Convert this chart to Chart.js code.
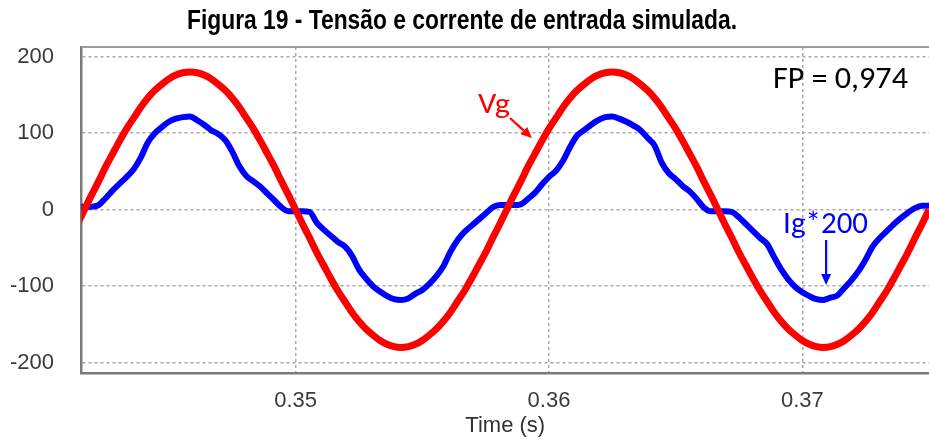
<!DOCTYPE html>
<html>
<head>
<meta charset="utf-8">
<script src="https://cdn.jsdelivr.net/npm/chart.js@4"></script>
<style>
  html, body { margin: 0; padding: 0; background: #fff; overflow: hidden; }
  canvas { display: block; }
</style>
</head>
<body>
<canvas id="c" width="929" height="440"></canvas>
<script>
// Simulated input waveforms, sampled every 1/3600 s (6 electrical degrees at 60 Hz)
const sampleStart = 0.341389;   // s
const samplePeriod = 1 / 3600;  // s

// Grid voltage Vg (V)
const vg = [
  -19,
  0, 19, 37, 56, 73, 90, 106, 120, 134, 146, 156, 164, 171, 176, 179, 180,
  179, 176, 171, 164, 156, 146, 134, 120, 106, 90, 73, 56, 37, 19, 0,
  -19, -37, -56, -73, -90, -106, -120, -134, -146, -156, -164, -171, -176, -179, -180,
  -179, -176, -171, -164, -156, -146, -134, -120, -106, -90, -73, -56, -37, -19,
  0, 19, 37, 56, 73, 90, 106, 120, 134, 146, 156, 164, 171, 176, 179, 180,
  179, 176, 171, 164, 156, 146, 134, 120, 106, 90, 73, 56, 37, 19, 0,
  -19, -37, -56, -73, -90, -106, -120, -134, -146, -156, -164, -171, -176, -179, -180,
  -179, -176, -171, -164, -156, -146, -134, -120, -106, -90, -73, -56, -37, -19,
  0, 19
];

// Grid current scaled by 200 (Ig*200)
const ig200 = [
  4,
  4, 4, 6, 15, 25, 34, 43, 53, 68, 88, 100, 108, 115, 119, 121, 122,
  117, 111, 104, 99, 91, 76, 57, 44, 37, 30, 21, 12, 3, -2, -2,
  -2, -3, -17, -26, -34, -42, -48, -60, -78, -90, -100, -107, -113, -117, -118,
  -116, -110, -105, -97, -87, -74, -55, -40, -29, -21, -13, -5, 3, 6,
  6, 6, 7, 14, 22, 33, 43, 51, 64, 82, 97, 104, 111, 117, 121, 122,
  119, 115, 110, 104, 94, 84, 62, 48, 40, 31, 24, 14, 3, -2, -2,
  -2, -3, -10, -19, -28, -37, -45, -62, -78, -91, -101, -108, -113, -117, -118,
  -115, -112, -102, -92, -80, -65, -48, -37, -28, -19, -11, -4, 2, 5,
  5, 5
];

const xTicks = [0.35, 0.36, 0.37];
const yTicks = [-200, -100, 0, 100, 200];

const chartTitle = 'Figura 19 - Tensão e corrente de entrada simulada.';
const xAxisTitle = 'Time (s)';
const pfLabel = 'FP = 0,974';
const vgLabel = 'Vg';
const igLabel = 'Ig*200';

const times = vg.map((_, i) => sampleStart + i * samplePeriod);
const toPoints = arr => arr.map((v, i) => ({ x: times[i], y: v }));

function hasFont(name) {
  const c = document.createElement('canvas').getContext('2d');
  const probe = 'Figura 19 mmmWW 0,974';
  c.font = '40px monospace';
  const a = c.measureText(probe).width;
  c.font = '40px "' + name + '", monospace';
  return Math.abs(c.measureText(probe).width - a) > 0.5;
}
const noteFamily = hasFont('Carlito') ? 'Carlito' : 'Lato';
const noteCap = noteFamily === 'Carlito' ? 0.644 : 0.717;

// Text drawn at a given cap height and fitted to a given width
function fittedText(ctx, text, x, y, capPx, widthPx, family, weight, color, align) {
  const size = capPx / (family === 'Liberation Sans' ? 0.716 : noteCap);
  ctx.save();
  ctx.font = (weight || 'normal') + ' ' + size.toFixed(1) + 'px "' + family + '"';
  ctx.fillStyle = color;
  ctx.textBaseline = 'alphabetic';
  const w = ctx.measureText(text).width;
  const sx = widthPx / w;
  let left = x;
  if (align === 'center') left = x - widthPx / 2;
  ctx.translate(left, y);
  ctx.scale(sx, 1);
  ctx.textAlign = 'left';
  ctx.fillText(text, 0, 0);
  ctx.restore();
}

function arrow(ctx, x1, y1, x2, y2, color) {
  const ang = Math.atan2(y2 - y1, x2 - x1);
  const head = 11, half = 5;
  const bx = x2 - head * Math.cos(ang), by = y2 - head * Math.sin(ang);
  ctx.save();
  ctx.strokeStyle = color;
  ctx.fillStyle = color;
  ctx.lineWidth = 2.2;
  ctx.beginPath();
  ctx.moveTo(x1, y1);
  ctx.lineTo(bx, by);
  ctx.stroke();
  ctx.beginPath();
  ctx.moveTo(x2, y2);
  ctx.lineTo(bx + half * Math.sin(ang), by - half * Math.cos(ang));
  ctx.lineTo(bx - half * Math.sin(ang), by + half * Math.cos(ang));
  ctx.closePath();
  ctx.fill();
  ctx.restore();
}

const decor = {
  id: 'decor',
  beforeDatasetsDraw(chart) {
    const { ctx, chartArea } = chart;
    // top frame line
    ctx.save();
    ctx.strokeStyle = '#9a9a9a';
    ctx.lineWidth = 2;
    ctx.beginPath();
    ctx.moveTo(chartArea.left, chartArea.top);
    ctx.lineTo(chartArea.right, chartArea.top);
    ctx.stroke();
    ctx.restore();
  },
  afterDraw(chart) {
    const { ctx } = chart;
    const xs = chart.scales.x, ys = chart.scales.y;
    const px = t => xs.getPixelForValue(t);
    const py = v => ys.getPixelForValue(v);

    fittedText(ctx, chartTitle, 462, 29, 19.5, 550, 'Liberation Sans', 'bold', '#000', 'center');

    fittedText(ctx, pfLabel, px(0.36884), py(158.7), 20, 135, noteFamily, 'normal', '#000', 'left');
    fittedText(ctx, vgLabel, px(0.3572), py(126.4), 18, 32, noteFamily, 'normal', '#ff0000', 'left');
    fittedText(ctx, igLabel, px(0.36924), py(-30.5), 20, 85, noteFamily, 'normal', '#0000ff', 'left');

    arrow(ctx, px(0.35846), py(119.9), px(0.35933), py(93.7), '#ff0000');
    arrow(ctx, px(0.37094), py(-39.6), px(0.37094), py(-98.4), '#0000ff');
  }
};

const tickFont = { family: '"Liberation Sans", Arial, sans-serif', size: 22 };

new Chart(document.getElementById('c').getContext('2d'), {
  type: 'line',
  data: {
    datasets: [
      {
        label: 'Vg',
        data: toPoints(vg),
        borderColor: '#ff0000',
        borderWidth: 7,
        pointRadius: 0,
        cubicInterpolationMode: 'monotone',
        clip: 0,
        order: 0
      },
      {
        label: 'Ig*200',
        data: toPoints(ig200),
        borderColor: '#0000ff',
        borderWidth: 6,
        pointRadius: 0,
        cubicInterpolationMode: 'monotone',
        clip: 0,
        order: 1
      }
    ]
  },
  options: {
    responsive: false,
    animation: false,
    devicePixelRatio: 1,
    events: [],
    layout: { padding: { top: 47, left: 0, right: 0, bottom: 0 } },
    plugins: {
      legend: { display: false },
      tooltip: { enabled: false },
      title: { display: false }
    },
    scales: {
      x: {
        type: 'linear',
        min: 0.34155,
        max: 0.375,
        afterBuildTicks: s => { s.ticks = xTicks.map(v => ({ value: v })); },
        afterFit: s => { s.height = 67; },
        grid: { color: '#a9a9a9', lineWidth: 1.5, drawTicks: false },
        border: { display: true, color: '#7a7a7a', width: 2.5, dash: [3, 3] },
        ticks: {
          color: '#3a3a3a',
          font: tickFont,
          padding: 15,
          maxRotation: 0,
          autoSkip: false,
          callback: v => v.toFixed(2)
        },
        title: {
          display: true,
          text: xAxisTitle,
          color: '#333',
          font: tickFont,
          padding: { top: 0, bottom: 1 }
        }
      },
      y: {
        min: -213.5,
        max: 212.7,
        afterBuildTicks: s => { s.ticks = yTicks.map(v => ({ value: v })); },
        afterFit: s => { s.width = 81.5; },
        grid: { color: '#a9a9a9', lineWidth: 1.5, drawTicks: false },
        border: { display: true, color: '#7a7a7a', width: 2.5, dash: [3, 3] },
        ticks: {
          color: '#3a3a3a',
          font: tickFont,
          padding: 27.5,
          autoSkip: false,
          callback: v => String(v)
        }
      }
    }
  },
  plugins: [decor]
});
</script>
</body>
</html>
